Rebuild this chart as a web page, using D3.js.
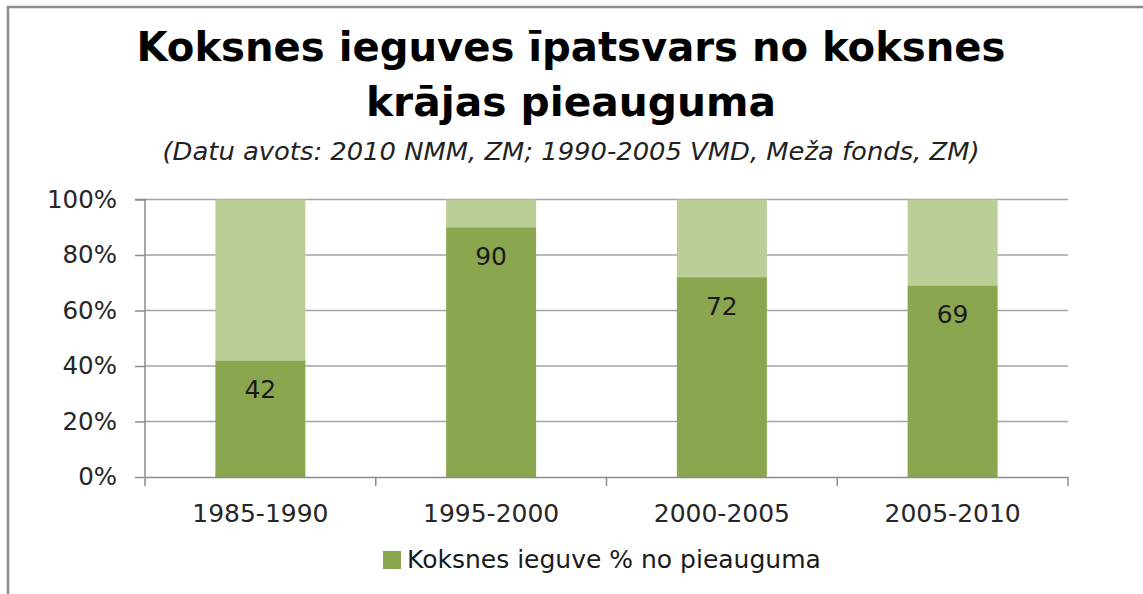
<!DOCTYPE html>
<html><head><meta charset="utf-8">
<script src="https://cdn.jsdelivr.net/npm/d3@7"></script>
<style>body{margin:0;background:#fff}svg{display:block}</style>
</head><body>
<script>
const categories = ["1985-1990","1995-2000","2000-2005","2005-2010"];
const values = [42, 90, 72, 69];
const yTicks = [0,20,40,60,80,100];
const titleLines = ["Koksnes ieguves īpatsvars no koksnes","krājas pieauguma"];
const subtitle = "(Datu avots: 2010 NMM, ZM; 1990-2005 VMD, Meža fonds, ZM)";
const legendLabel = "Koksnes ieguve % no pieauguma";

const W=1143,H=594;
const svg=d3.select("body").append("svg").attr("width",W).attr("height",H);
svg.append("rect").attr("width",W).attr("height",H).attr("fill","#fff");
// frame
svg.append("path").attr("d","M8,594 V7 H1143").attr("fill","none").attr("stroke","#8c8c8c").attr("stroke-width",2.5);

const m={l:145,r:1068,t:199.5,b:477};
const x=d3.scaleBand().domain(categories).range([m.l,m.r]).paddingInner(0.61).paddingOuter(0.305);
const xb=d3.scaleBand().domain(categories).range([m.l,m.r]);
const y=d3.scaleLinear().domain([0,100]).range([m.b,m.t]);
const F="DejaVu Sans";

// gridlines
svg.append("g").selectAll("line").data(yTicks.slice(1)).join("line")
  .attr("x1",m.l).attr("x2",m.r).attr("y1",d=>y(d)).attr("y2",d=>y(d))
  .attr("stroke","#a3a3a3").attr("stroke-width",1.4);

// bars
svg.append("g").selectAll("rect").data(values).join("rect")
  .attr("x",(d,i)=>x(categories[i])).attr("width",x.bandwidth())
  .attr("y",y(100)).attr("height",d=>y(d)-y(100)).attr("fill","#bbce97");
svg.append("g").selectAll("rect").data(values).join("rect")
  .attr("x",(d,i)=>x(categories[i])).attr("width",x.bandwidth())
  .attr("y",d=>y(d)).attr("height",d=>y(0)-y(d)).attr("fill","#8aa64f");
svg.append("g").selectAll("text").data(values).join("text")
  .attr("x",(d,i)=>x(categories[i])+x.bandwidth()/2).attr("y",d=>y(d)+28.5+9)
  .attr("text-anchor","middle")
  .attr("font-family",F).attr("font-size",25).attr("fill","#1a1a1a").text(d=>d);

// y axis
const ya=svg.append("g").attr("transform",`translate(${m.l},0)`)
  .call(d3.axisLeft(y).tickValues(yTicks).tickFormat(d=>d+"%").tickSize(10).tickPadding(18));
ya.select(".domain").attr("stroke","#8c8c8c").attr("stroke-width",1.5).attr("d",`M-10,${m.t}H0V${m.b}`);
ya.selectAll(".tick line").attr("stroke","#8c8c8c").attr("stroke-width",1.5);
ya.selectAll("text").attr("font-family",F).attr("font-size",24.5).attr("fill","#262626");

// x axis
const xa=svg.append("g").attr("transform",`translate(0,${m.b})`)
  .call(d3.axisBottom(xb).tickSize(0));
xa.select(".domain").attr("stroke","#8c8c8c").attr("stroke-width",1.5);
xa.selectAll("text").attr("y",44.5).attr("dy",0).attr("font-family",F).attr("font-size",25).attr("fill","#262626");
svg.append("g").selectAll("line").data(d3.range(categories.length+1)).join("line")
  .attr("x1",i=>m.l+i*xb.step()).attr("x2",i=>m.l+i*xb.step()).attr("y1",m.b).attr("y2",m.b+9)
  .attr("stroke","#8c8c8c").attr("stroke-width",1.5);

// title
const tl=[869,410];
svg.append("g").selectAll("text").data(titleLines).join("text")
  .attr("x",571).attr("y",(d,i)=>61+i*55).attr("text-anchor","middle")
  .attr("font-family","DejaVu Sans Condensed, DejaVu Sans").attr("font-weight","bold")
  .attr("font-size",41).attr("fill","#000")
  .attr("textLength",(d,i)=>tl[i]).attr("lengthAdjust","spacingAndGlyphs").text(d=>d);
svg.append("text").attr("x",571).attr("y",160).attr("text-anchor","middle")
  .attr("font-family","DejaVu Sans Condensed, DejaVu Sans").attr("font-style","italic")
  .attr("font-size",25).attr("fill","#222")
  .attr("textLength",817).attr("lengthAdjust","spacingAndGlyphs").text(subtitle);

// legend
const lg=svg.append("g");
lg.append("rect").attr("x",383).attr("y",551).attr("width",18).attr("height",18).attr("fill","#8aa64f");
lg.append("text").attr("x",407).attr("y",568)
  .attr("font-family",F).attr("font-size",25).attr("fill","#1a1a1a").text(legendLabel);
</script>
</body></html>
